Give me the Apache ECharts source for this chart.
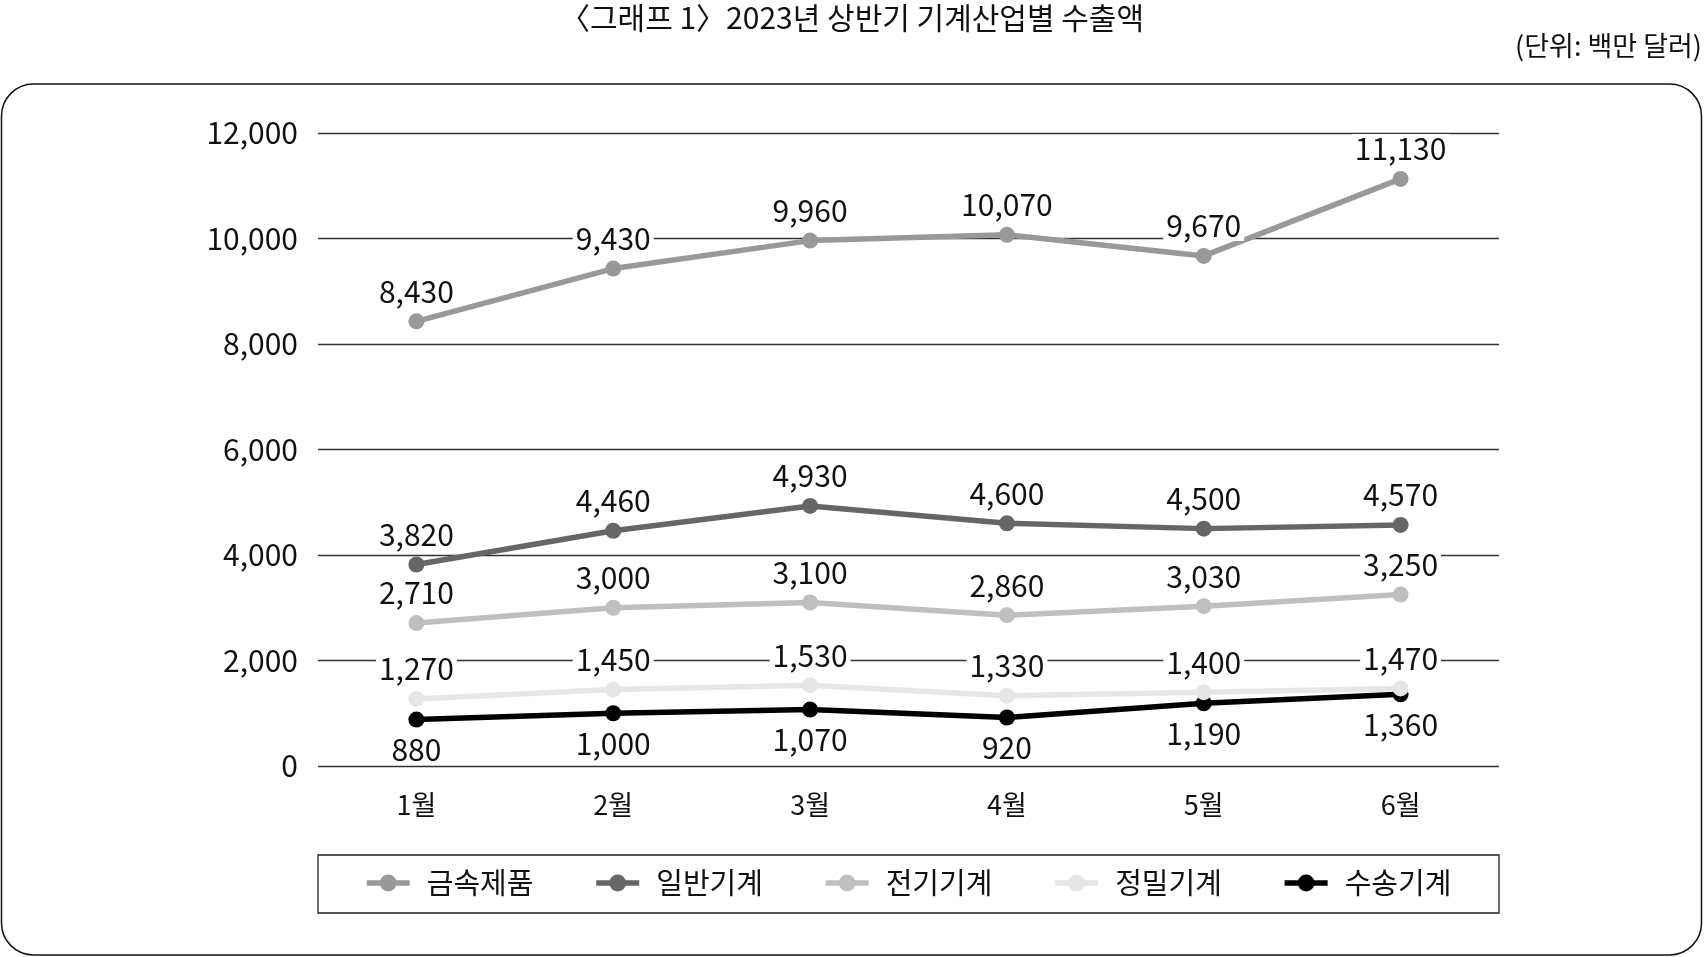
<!DOCTYPE html>
<html>
<head>
<meta charset="utf-8">
<script src="https://cdn.jsdelivr.net/npm/echarts@6/dist/echarts.min.js"></script>
<style>
  html, body { margin: 0; padding: 0; background: #fff; }
  #chart { width: 1704px; height: 957px; }
</style>
</head>
<body>
<div id="chart"></div>
<script>
// 월 (x축)
var months = ['1월', '2월', '3월', '4월', '5월', '6월'];
// 단위: 백만 달러
var metal = [8430, 9430, 9960, 10070, 9670, 11130];      // 금속제품
var general = [3820, 4460, 4930, 4600, 4500, 4570];      // 일반기계
var electric = [2710, 3000, 3100, 2860, 3030, 3250];     // 전기기계
var precision = [1270, 1450, 1530, 1330, 1400, 1470];    // 정밀기계
var transport = [880, 1000, 1070, 920, 1190, 1360];      // 수송기계
var yTicks = [0, 2000, 4000, 6000, 8000, 10000, 12000];

var FONT = '"Noto Sans CJK KR", "Noto Sans", sans-serif';

function fmt(v) {
  return String(v).replace(/\B(?=(\d{3})+(?!\d))/g, ',');
}

function makeSeries(name, data, color, pos, z) {
  return {
    name: name,
    type: 'line',
    data: data,
    z: z,
    symbol: 'circle',
    symbolSize: 16,
    itemStyle: { color: color },
    lineStyle: { color: color, width: 5.5 },
    label: {
      show: true,
      position: pos,
      distance: 7,
      fontFamily: FONT,
      fontSize: 30,
      color: '#111',
      backgroundColor: '#fff',
      padding: [0, 3],
      formatter: function (p) { return fmt(p.value); }
    },
    emphasis: { disabled: true },
    animation: false
  };
}

var chart = echarts.init(document.getElementById('chart'));
chart.setOption({
  backgroundColor: '#fff',
  animation: false,
  title: {
    text: '〈그래프 1〉2023년 상반기 기계산업별 수출액',
    left: 'center',
    top: 3,
    padding: 0,
    textStyle: { fontFamily: FONT, fontSize: 30, fontWeight: 'normal', color: '#111' }
  },
  graphic: [
    {
      type: 'text',
      right: 2,
      top: 32,
      style: { text: '(단위: 백만 달러)', fontFamily: FONT, fontSize: 27, fill: '#111' }
    },
    {
      type: 'rect',
      shape: { x: 1.5, y: 84, width: 1700, height: 871, r: 32 },
      style: { fill: 'none', stroke: '#111', lineWidth: 1.5 },
      silent: true
    },
    {
      type: 'rect',
      shape: { x: 318, y: 855, width: 1181, height: 58 },
      style: { fill: 'none', stroke: '#222', lineWidth: 1.3 },
      silent: true
    }
  ],
  legend: {
    top: 868,
    left: 364,
    itemGap: 60,
    itemWidth: 43,
    itemHeight: 21,
    padding: 0,
    lineStyle: { width: 5.5 },
    textStyle: { fontFamily: FONT, fontSize: 29, color: '#111', lineHeight: 30, padding: [0, 0, 0, 12] },
    data: ['금속제품', '일반기계', '전기기계', '정밀기계', '수송기계']
  },
  grid: { left: 318, right: 205, top: 133, bottom: 191 },
  xAxis: {
    type: 'category',
    data: months,
    boundaryGap: true,
    axisLine: { show: false },
    axisTick: { show: false },
    axisLabel: { margin: 25, fontFamily: FONT, fontSize: 27, color: '#111' }
  },
  yAxis: {
    type: 'value',
    min: yTicks[0],
    max: yTicks[yTicks.length - 1],
    interval: yTicks[1] - yTicks[0],
    axisLine: { show: false },
    axisTick: { show: false },
    splitLine: { lineStyle: { color: '#333', width: 1.3 } },
    axisLabel: {
      margin: 20,
      fontFamily: FONT,
      fontSize: 30,
      color: '#111',
      formatter: function (v) { return fmt(v); }
    }
  },
  series: [
    makeSeries('금속제품', metal, '#999999', 'top', 2),
    makeSeries('일반기계', general, '#666666', 'top', 2),
    makeSeries('전기기계', electric, '#bfbfbf', 'top', 2),
    makeSeries('정밀기계', precision, '#e6e6e6', 'top', 3),
    makeSeries('수송기계', transport, '#000000', 'bottom', 2)
  ]
});
</script>
</body>
</html>
